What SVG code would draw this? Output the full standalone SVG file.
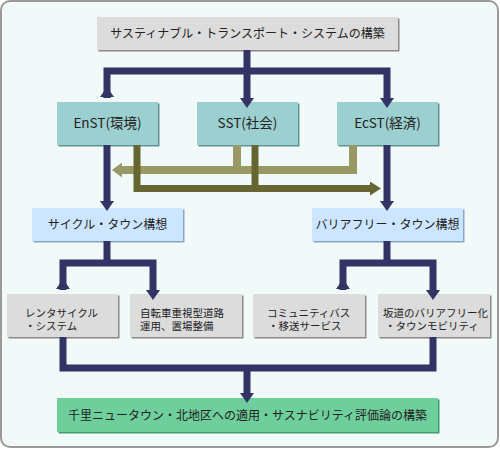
<svg xmlns="http://www.w3.org/2000/svg" width="500" height="449" viewBox="0 0 500 449">
<defs>
<style>
text{font-family:"Noto Sans CJK JP","Noto Sans",sans-serif;font-size:12px;fill:#222;}
.c{text-anchor:middle;}
.s{font-size:10.5px;}
.sh{fill:#8a8a8a;}
.shT{fill:#5f9393;}
.shB{fill:#8aa6c4;}
.shG{fill:#3f9a6c;}
.gray{fill:#dcdcdc;}
.teal{fill:#9ccfcf;}
.blue{fill:#cce6ff;}
.green{fill:#6fcf9c;}
.nv{fill:none;stroke:#333366;stroke-width:7;stroke-linejoin:miter;}
.lo{fill:none;stroke:#999966;stroke-width:8;}
.do{fill:none;stroke:#666633;stroke-width:7;}
</style>
<marker id="an" markerUnits="userSpaceOnUse" markerWidth="10" markerHeight="14" viewBox="0 -7 10 14" refX="0" refY="0" orient="auto"><path d="M0,-7 L10,0 L0,7 z" fill="#333366"/></marker>
<marker id="al" markerUnits="userSpaceOnUse" markerWidth="10" markerHeight="15" viewBox="0 -7.5 10 15" refX="0" refY="0" orient="auto"><path d="M0,-7.5 L10,0 L0,7.5 z" fill="#999966"/></marker>
<marker id="ad" markerUnits="userSpaceOnUse" markerWidth="11" markerHeight="14" viewBox="0 -7 11 14" refX="0" refY="0" orient="auto"><path d="M0,-7 L11,0 L0,7 z" fill="#666633"/></marker>
</defs>
<rect x="1" y="1" width="497" height="446" rx="9" fill="#f2f9f9" stroke="#9a9a9a" stroke-width="2"/>

<g id="top"><rect class="sh" x="98.5" y="18.5" width="301" height="33"/><rect class="gray" x="97" y="17" width="301" height="33"/><text class="c" x="247.5" y="38">サスティナブル・トランスポート・システムの構築</text></g>

<g id="enst"><rect class="shT" x="58.5" y="103.5" width="101" height="43"/><rect class="teal" x="57" y="102" width="101" height="43"/><text class="c" x="107.5" y="128" style="font-size:13.5px">EnST(環境)</text></g>
<g id="sst"><rect class="shT" x="198.5" y="103.5" width="101" height="43"/><rect class="teal" x="197" y="102" width="101" height="43"/><text class="c" x="247.5" y="128" style="font-size:13.5px">SST(社会)</text></g>
<g id="ecst"><rect class="shT" x="338.5" y="103.5" width="101" height="43"/><rect class="teal" x="337" y="102" width="101" height="43"/><text class="c" x="387.5" y="128" style="font-size:13.5px">EcST(経済)</text></g>

<g id="cycle"><rect class="shB" x="33.5" y="209.5" width="151" height="33"/><rect class="blue" x="32" y="208" width="151" height="33"/><text class="c" x="107.5" y="229">サイクル・タウン構想</text></g>
<g id="bfree"><rect class="shB" x="313.5" y="209.5" width="151" height="33"/><rect class="blue" x="312" y="208" width="151" height="33"/><text class="c" x="387.5" y="229">バリアフリー・タウン構想</text></g>

<g id="rent"><rect class="sh" x="8.5" y="295.5" width="111" height="43"/><rect class="gray" x="7" y="294" width="111" height="43"/><text class="s" x="25" y="316.5">レンタサイクル</text><text class="s" x="25" y="329.5">・システム</text></g>
<g id="road"><rect class="sh" x="131.5" y="295.5" width="112" height="43"/><rect class="gray" x="130" y="294" width="112" height="43"/><text class="s" x="140" y="316.5">自転車重視型道路</text><text class="s" x="140" y="329.5">運用、置場整備</text></g>
<g id="bus"><rect class="sh" x="254.5" y="295.5" width="112" height="43"/><rect class="gray" x="253" y="294" width="112" height="43"/><text class="s" x="267" y="316.5">コミュニティバス</text><text class="s" x="268" y="329.5">・移送サービス</text></g>
<g id="slope"><rect class="sh" x="379.5" y="295.5" width="112" height="43"/><rect class="gray" x="378" y="294" width="112" height="43"/><text class="s" x="383" y="316.5">坂道のバリアフリー化</text><text class="s" x="385" y="329.5">・タウンモビリティ</text></g>

<g id="final"><rect class="shG" x="58.5" y="399.5" width="381" height="34"/><rect class="green" x="57" y="398" width="381" height="34"/><text class="c" x="247.5" y="419.5">千里ニュータウン・北地区への適用・サスナビリティ評価論の構築</text></g>

<g id="connectors">
<path class="nv" d="M247,50 V98" marker-end="url(#an)"/>
<path class="nv" d="M107,98 V71 H387 V98" marker-end="url(#an)"/>
<path class="nv" d="M107,98 V97" marker-end="url(#an)"/>
<path class="lo" d="M237,145 V170"/>
<path class="lo" d="M353,145 V170 H122" marker-end="url(#al)"/>
<path class="do" d="M137,145 V188.5 H370" marker-end="url(#ad)"/>
<path class="do" d="M255,145 V188.5"/>
<path class="nv" d="M107,145 V201" marker-end="url(#an)"/>
<path class="nv" d="M387,145 V201" marker-end="url(#an)"/>
<path class="nv" d="M107,241 V263"/>
<path class="nv" d="M63,290 V263 H153 V290" marker-end="url(#an)"/>
<path class="nv" d="M63,290 V289" marker-end="url(#an)"/>
<path class="nv" d="M387,241 V263"/>
<path class="nv" d="M343,290 V263 H433 V290" marker-end="url(#an)"/>
<path class="nv" d="M343,290 V289" marker-end="url(#an)"/>
<path class="nv" d="M63,337 V368 H433 V337"/>
<path class="nv" d="M247,368 V393" marker-end="url(#an)"/>
</g>
</svg>
